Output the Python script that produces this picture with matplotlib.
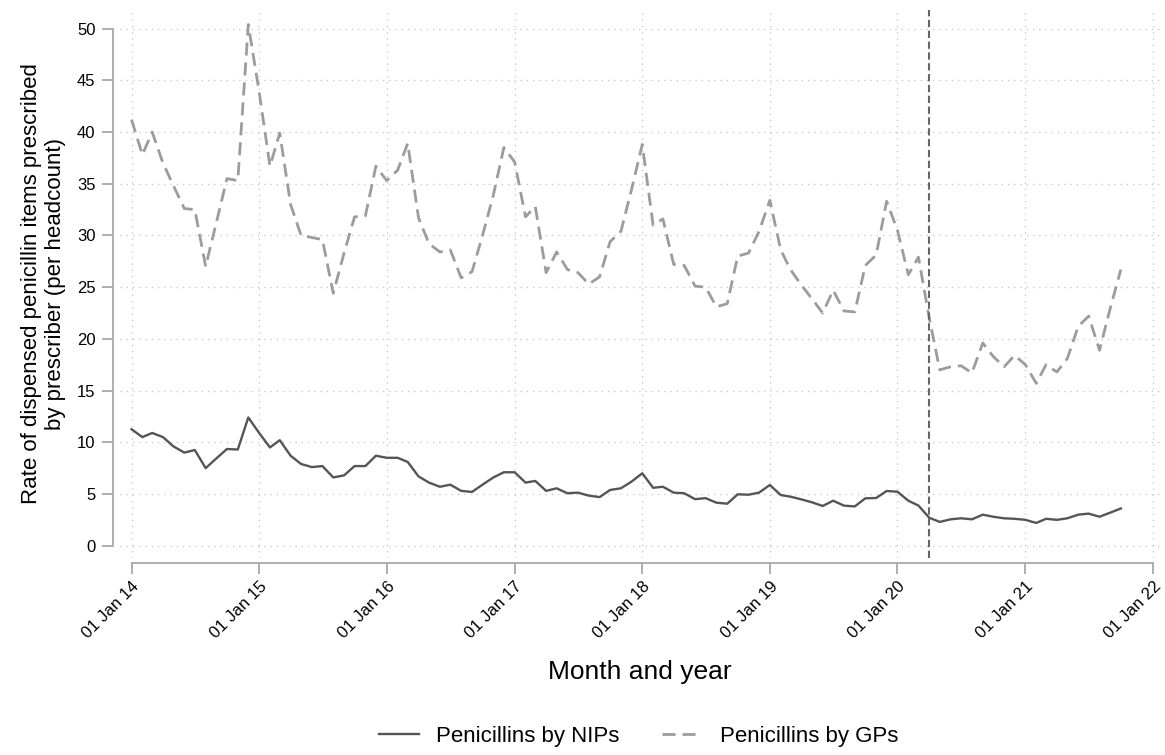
import numpy as np
import pandas as pd
import matplotlib
matplotlib.use('Agg')
import matplotlib.pyplot as plt
import matplotlib.dates as mdates

plt.rcParams['font.family'] = ['Liberation Sans', 'DejaVu Sans']

# monthly series, Jan 2014 .. Oct 2021
months = pd.date_range('2014-01-01', periods=94, freq='MS')

nip_rate = [
    11.26, 10.5, 10.9, 10.5, 9.6, 9.0, 9.25, 7.5, 8.45, 9.35, 9.3, 12.4,
    10.9, 9.5, 10.2, 8.7, 7.9, 7.6, 7.7, 6.6, 6.8, 7.7, 7.7, 8.7,
    8.5, 8.5, 8.1, 6.7, 6.1, 5.7, 5.9, 5.3, 5.2, 5.9, 6.6, 7.1,
    7.1, 6.1, 6.26, 5.3, 5.55, 5.07, 5.13, 4.84, 4.7, 5.39, 5.55, 6.19,
    7.0, 5.6, 5.7, 5.13, 5.07, 4.5, 4.6, 4.16, 4.06, 4.97, 4.93, 5.13,
    5.87, 4.9, 4.74, 4.48, 4.2, 3.84, 4.35, 3.87, 3.8, 4.58, 4.61, 5.29,
    5.22, 4.35, 3.88, 2.7, 2.3, 2.55, 2.65, 2.55, 3.0, 2.8, 2.65, 2.6,
    2.5, 2.2, 2.6, 2.5, 2.65, 3.0, 3.1, 2.8, 3.2, 3.6,
]

gp_rate = [
    41.2, 37.8, 40.0, 37.0, 34.8, 32.6, 32.5, 27.0, 31.3, 35.5, 35.3, 50.4,
    43.9, 36.7, 39.9, 33.0, 30.0, 29.8, 29.6, 24.4, 28.3, 31.8, 31.9, 36.7,
    35.3, 36.3, 38.9, 31.7, 29.2, 28.4, 28.6, 25.9, 26.5, 30.0, 33.9, 38.5,
    37.1, 31.8, 32.8, 26.4, 28.4, 26.7, 26.4, 25.3, 26.0, 29.4, 30.4, 34.4,
    38.8, 31.0, 31.6, 27.2, 27.1, 25.1, 25.0, 23.1, 23.4, 28.0, 28.3, 30.4,
    33.4, 28.6, 26.7, 25.2, 23.9, 22.5, 24.7, 22.7, 22.6, 27.1, 28.1, 33.3,
    30.5, 26.2, 27.9, 22.0, 17.0, 17.3, 17.4, 16.7, 19.6, 18.3, 17.3, 18.4,
    17.5, 15.7, 17.5, 16.8, 18.1, 21.2, 22.2, 18.9, 23.0, 26.7,
]

year_ticks = pd.date_range('2014-01-01', '2022-01-01', freq='YS')
y_ticks = np.arange(0, 51, 5)
lockdown = pd.Timestamp('2020-04-01')

AXIS_GREY = '#a8a8a8'
GRID_GREY = '#c4c4c4'

fig = plt.figure(figsize=(11.65, 7.55), dpi=100)
ax = fig.add_axes([120 / 1165, 1 - 558 / 755, 1040 / 1165, 548 / 755])

ax.plot(months, nip_rate, '-', color='#555555', lw=1.7, label='Penicillins by NIPs')
ax.plot(months, gp_rate, '--', color='#9c9c9c', lw=2.0, dashes=(4.7, 2.5),
        label='Penicillins by GPs')
ax.axvline(lockdown, color='#666666', lw=1.5, linestyle=(0, (3.5, 1.7)))

ax.set_xlim(pd.Timestamp('2014-01-01') - pd.Timedelta(days=33),
            pd.Timestamp('2022-01-01') + pd.Timedelta(days=20))
ax.set_ylim(-1.19, 51.8)

ax.set_xticks(year_ticks)
ax.xaxis.set_major_formatter(mdates.DateFormatter('%d %b %y'))
ax.set_yticks(y_ticks)

ax.grid(True, linestyle=(0, (1, 4)), color=GRID_GREY, lw=0.9)

for side in ('top', 'right'):
    ax.spines[side].set_visible(False)
ax.spines['left'].set_position(('outward', 4.8))
ax.spines['bottom'].set_position(('outward', 3.8))
ax.spines['left'].set_bounds(0, 50)
ax.spines['bottom'].set_bounds(mdates.date2num(year_ticks[0]),
                               mdates.date2num(year_ticks[-1]))
for side in ('left', 'bottom'):
    ax.spines[side].set_color(AXIS_GREY)
    ax.spines[side].set_linewidth(1.3)

ax.tick_params(axis='both', colors=AXIS_GREY, width=1.3, length=8,
               labelcolor='black', labelsize=12)
ax.tick_params(axis='y', pad=4.8)
ax.tick_params(axis='x', pad=3)
plt.setp(ax.get_xticklabels(), rotation=45, ha='right', va='top',
         rotation_mode='anchor')

ax.set_xlabel('Month and year', fontsize=19, labelpad=14)
ax.set_ylabel('Rate of dispensed penicillin items prescribed\nby prescriber (per headcount)',
              fontsize=16, labelpad=8)

fig.legend(loc='center', bbox_to_anchor=(0.548, 18.5 / 755), ncol=2, frameon=False,
           fontsize=16, handlelength=1.8, handletextpad=0.8, columnspacing=1.9,
           borderpad=0, borderaxespad=0)

fig.savefig('out.png', dpi=100)
